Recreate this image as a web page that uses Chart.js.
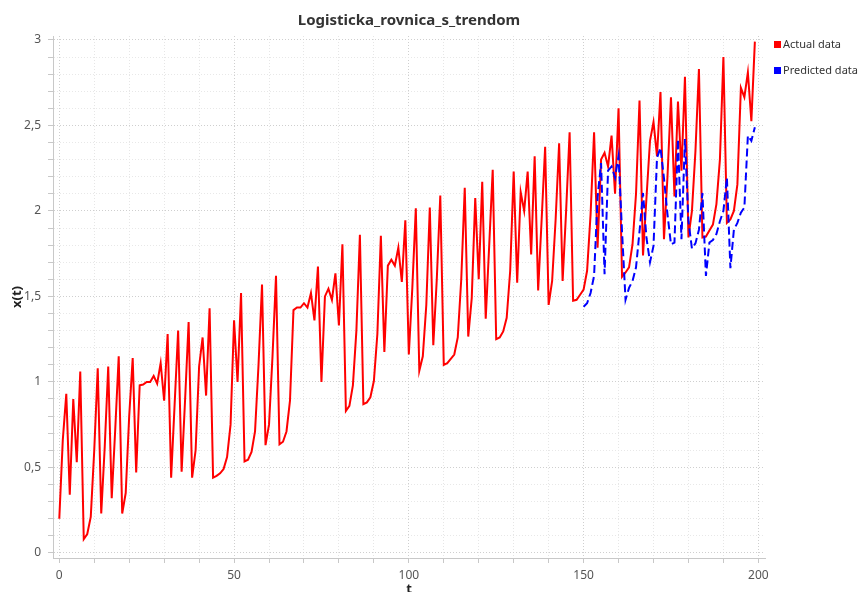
<!DOCTYPE html>
<html>
<head>
<meta charset="utf-8">
<script src="https://cdn.jsdelivr.net/npm/chart.js@4.4.1/dist/chart.umd.min.js"></script>
<style>
  html, body { margin: 0; padding: 0; background: #ffffff; }
  #wrap { width: 859px; height: 592px; }
</style>
</head>
<body>
<div id="wrap"><canvas id="chart" width="859" height="592"></canvas></div>
<script>
// Observed series x(t), t = 0 .. 199
const actualStart = 0;
const actualValues = [
  0.20, 0.66, 0.93, 0.34, 0.90, 0.53, 1.06, 0.08, 0.11, 0.21,
  0.60, 1.08, 0.23, 0.62, 1.09, 0.32, 0.72, 1.15, 0.23, 0.35,
  0.80, 1.14, 0.47, 0.98, 0.985, 1.00, 1.00, 1.035, 0.99, 1.11,
  0.89, 1.28, 0.44, 0.87, 1.30, 0.475, 0.90, 1.35, 0.44, 0.60,
  1.09, 1.26, 0.92, 1.43, 0.44, 0.45, 0.465, 0.49, 0.56, 0.75,
  1.36, 1.00, 1.52, 0.535, 0.545, 0.59, 0.71, 1.10, 1.57, 0.63,
  0.75, 1.15, 1.62, 0.635, 0.65, 0.71, 0.89, 1.42, 1.435, 1.435,
  1.46, 1.435, 1.52, 1.36, 1.675, 1.00, 1.50, 1.545, 1.48, 1.635,
  1.33, 1.805, 0.83, 0.86, 0.98, 1.30, 1.86, 0.87, 0.88, 0.91,
  1.005, 1.28, 1.855, 1.175, 1.68, 1.715, 1.68, 1.785, 1.585, 1.945,
  1.16, 1.55, 2.015, 1.065, 1.15, 1.45, 2.02, 1.215, 1.60, 2.09,
  1.10, 1.11, 1.135, 1.16, 1.26, 1.60, 2.135, 1.265, 1.49, 2.075,
  1.60, 2.17, 1.37, 1.80, 2.24, 1.25, 1.26, 1.295, 1.375, 1.65,
  2.23, 1.58, 2.11, 2.00, 2.23, 1.745, 2.32, 1.535, 1.95, 2.375,
  1.45, 1.59, 1.95, 2.395, 1.59, 2.00, 2.46, 1.475, 1.48, 1.51,
  1.54, 1.65, 1.98, 2.46, 1.785, 2.30, 2.34, 2.26, 2.44, 2.10,
  2.60, 1.615, 1.64, 1.67, 1.805, 2.10, 2.645, 1.74, 2.08, 2.41,
  2.52, 2.32, 2.695, 1.835, 2.20, 2.665, 2.085, 2.64, 2.235, 2.785,
  1.845, 2.00, 2.35, 2.83, 1.845, 1.85, 1.885, 1.92, 2.04, 2.30,
  2.90, 1.93, 1.95, 2.00, 2.155, 2.72, 2.665, 2.81, 2.525, 2.99
];

// Model output, t = 150 .. 199
const predictedStart = 150;
const predictedValues = [
  1.44, 1.46, 1.52, 1.62, 2.08, 2.28, 1.63, 2.235, 2.26, 2.195,
  2.32, 1.88, 1.48, 1.55, 1.59, 1.67, 1.88, 2.105, 1.84, 1.70,
  1.795, 2.31, 2.37, 2.19, 1.98, 1.805, 1.815, 2.42, 1.835, 2.42,
  1.94, 1.78, 1.81, 1.89, 2.105, 1.62, 1.815, 1.83, 1.865, 1.94,
  2.00, 2.195, 1.665, 1.89, 1.93, 1.99, 2.02, 2.44, 2.41, 2.49
];

const seriesLabels = ['Actual data', 'Predicted data'];
const chartTitle = 'Logisticka_rovnica_s_trendom';
const xTitle = 't';
const yTitle = 'x(t)';
const xLabelEvery = 50;   // labelled x ticks
const yLabelEvery = 0.5;  // labelled y ticks

const FONT = '"Noto Sans", "DejaVu Sans", sans-serif';

function toPoints(start, values) {
  return values.map((v, i) => ({ x: start + i, y: v }));
}

function isMultiple(v, step) {
  const q = v / step;
  return Math.abs(q - Math.round(q)) < 1e-6;
}

// Legend drawn beside the plot, may run past the right edge
const sideLegend = {
  id: 'sideLegend',
  afterDraw(chart) {
    const { ctx, chartArea } = chart;
    ctx.save();
    ctx.font = '11px ' + FONT;
    ctx.textBaseline = 'middle';
    ctx.textAlign = 'left';
    chart.data.datasets.forEach((ds, i) => {
      const top = chartArea.top + 5 + i * 26;
      ctx.fillStyle = ds.borderColor;
      ctx.fillRect(chartArea.right + 9, top, 7, 7);
      ctx.fillStyle = '#333333';
      ctx.fillText(ds.label, chartArea.right + 18, top + 4);
    });
    ctx.restore();
  }
};

new Chart(document.getElementById('chart'), {
  type: 'line',
  data: {
    datasets: [
      {
        label: seriesLabels[0],
        data: toPoints(actualStart, actualValues),
        borderColor: '#ff0000',
        backgroundColor: '#ff0000',
        borderWidth: 2,
        pointRadius: 0,
        tension: 0,
        fill: false,
        order: 1
      },
      {
        label: seriesLabels[1],
        data: toPoints(predictedStart, predictedValues),
        borderColor: '#0000ff',
        backgroundColor: '#0000ff',
        borderWidth: 2,
        borderDash: [8, 4],
        pointRadius: 0,
        tension: 0,
        fill: false,
        order: 0
      }
    ]
  },
  options: {
    responsive: false,
    animation: false,
    devicePixelRatio: 1,
    events: [],
    layout: { padding: { left: 0, right: 94, top: 0, bottom: -11 } },
    plugins: {
      legend: { display: false },
      tooltip: { enabled: false },
      title: {
        display: true,
        text: chartTitle,
        fullSize: false,
        color: '#333333',
        font: { family: FONT, size: 15, weight: 'bold' },
        padding: { top: 12, bottom: 6 }
      }
    },
    scales: {
      x: {
        type: 'linear',
        min: -1.8,
        max: 201.9,
        ticks: {
          stepSize: 10,
          autoSkip: false,
          includeBounds: false,
          maxRotation: 0,
          padding: 5,
          color: '#555555',
          font: { family: FONT, size: 12 },
          callback: (v) => isMultiple(v, xLabelEvery) ? String(v) : ''
        },
        grid: {
          color: (c) => isMultiple(c.tick.value, xLabelEvery) ? '#cfcfcf' : '#e6e6e6',
          tickColor: '#c8c8c8',
          tickLength: 5,
          tickBorderDash: [],
          lineWidth: 1
        },
        border: { display: true, color: '#c8c8c8', width: 1, dash: [1, 2] },
        title: {
          display: true,
          text: xTitle,
          color: '#222222',
          font: { family: FONT, size: 13, weight: 'bold' },
          padding: { top: -6, bottom: 6 }
        }
      },
      y: {
        type: 'linear',
        min: -0.03,
        max: 3.023,
        afterFit: (scale) => { scale.width = 53; },
        ticks: {
          stepSize: 0.1,
          autoSkip: false,
          includeBounds: false,
          padding: 7,
          color: '#555555',
          font: { family: FONT, size: 12 },
          callback: (v) => isMultiple(v, yLabelEvery) ? String(Math.round(v * 10) / 10).replace('.', ',') : ''
        },
        grid: {
          color: (c) => isMultiple(c.tick.value, yLabelEvery) ? '#cfcfcf' : '#e8e8e8',
          tickColor: '#c8c8c8',
          tickLength: 5,
          tickBorderDash: [],
          lineWidth: 1
        },
        border: { display: true, color: '#c8c8c8', width: 1, dash: [1, 2] },
        title: {
          display: true,
          text: yTitle,
          color: '#222222',
          font: { family: FONT, size: 13, weight: 'bold' },
          padding: { top: 9, bottom: 0 }
        }
      }
    }
  },
  plugins: [sideLegend]
});
</script>
</body>
</html>
